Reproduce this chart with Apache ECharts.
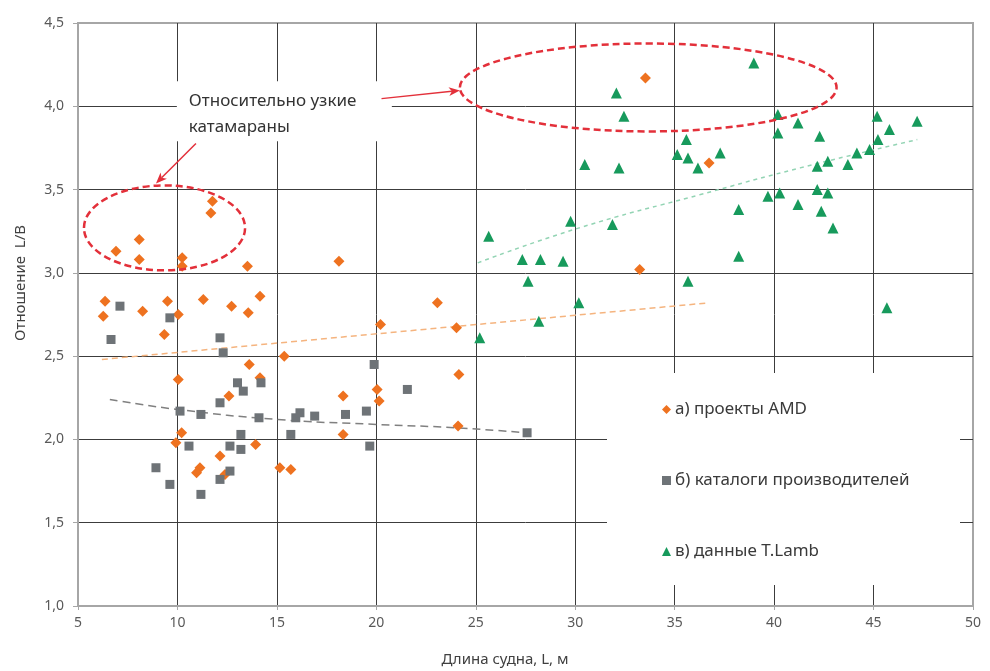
<!DOCTYPE html>
<html>
<head>
<meta charset="utf-8">
<script src="https://cdn.jsdelivr.net/npm/echarts@6/dist/echarts.min.js"></script>
<style>
html,body{margin:0;padding:0;background:#fff;}
#chart{width:990px;height:671px;}
</style>
</head>
<body>
<div id="chart"></div>
<script>
// ---- data ----
const seriesNames = ['а) проекты AMD', 'б) каталоги производителей', 'в) данные T.Lamb'];
const xTicks = [5, 10, 15, 20, 25, 30, 35, 40, 45, 50];
const yTicks = [1.0, 1.5, 2.0, 2.5, 3.0, 3.5, 4.0, 4.5];

const amdData = [
  [6.36,2.83],[6.27,2.74],[6.91,3.13],[8.08,3.20],[8.08,3.08],[8.25,2.77],[9.5,2.83],[9.34,2.63],
  [10.04,2.75],[10.24,3.09],[10.24,3.04],[11.3,2.84],[11.76,3.43],[11.68,3.36],[12.72,2.80],[13.52,3.04],
  [13.56,2.76],[14.15,2.86],[15.37,2.50],[13.61,2.45],[10.04,2.36],[14.15,2.37],[12.59,2.26],[10.21,2.04],
  [9.92,1.98],[13.93,1.97],[12.14,1.90],[11.13,1.83],[10.96,1.80],[12.39,1.79],[15.15,1.83],[15.7,1.82],
  [18.12,3.07],[23.07,2.82],[20.21,2.69],[24.03,2.67],[24.15,2.39],[18.33,2.26],[20.04,2.30],[20.14,2.23],
  [18.33,2.03],[24.11,2.08],[33.53,4.17],[36.73,3.66],[33.24,3.02]
];
const catalogData = [
  [7.11,2.80],[9.62,2.73],[6.66,2.60],[12.14,2.61],[12.3,2.52],[13.02,2.34],[13.31,2.29],[14.2,2.34],
  [12.14,2.22],[10.13,2.17],[11.18,2.15],[14.1,2.13],[15.95,2.13],[16.16,2.16],[13.19,2.03],[15.7,2.03],
  [10.58,1.96],[12.64,1.96],[13.19,1.94],[8.92,1.83],[12.64,1.81],[12.14,1.76],[9.62,1.73],[11.18,1.67],
  [19.89,2.45],[21.56,2.30],[16.9,2.14],[18.45,2.15],[19.5,2.17],[19.67,1.96],[27.58,2.04]
];
const lambData = [
  [25.2,2.61],[25.65,3.22],[27.34,3.08],[27.63,2.95],[28.17,2.71],[28.25,3.08],[29.39,3.07],[29.77,3.31],
  [30.18,2.82],[30.48,3.65],[31.87,3.29],[32.07,4.08],[32.2,3.63],[32.45,3.94],[35.13,3.71],[35.59,3.80],
  [35.67,3.69],[35.67,2.95],[36.17,3.63],[37.29,3.72],[38.22,3.38],[38.22,3.10],[38.98,4.26],[39.69,3.46],
  [40.19,3.95],[40.19,3.84],[40.28,3.48],[41.2,3.90],[41.2,3.41],[42.17,3.64],[42.17,3.50],[42.29,3.82],
  [42.37,3.37],[42.7,3.67],[42.7,3.48],[42.96,3.27],[43.71,3.65],[44.16,3.72],[44.8,3.74],[45.18,3.94],
  [45.22,3.80],[45.67,2.79],[45.8,3.86],[47.19,3.91]
];
// trend lines
const amdTrend = [[6.2,2.48],[36.7,2.82]];
const catalogTrend = [[6.6,2.24],[10,2.18],[15,2.12],[20,2.09],[24,2.07],[27.5,2.04]];
const lambTrend = [[25.1,3.06],[30.2,3.27],[36.3,3.47],[41.3,3.63],[47.2,3.80]];

// annotations (data coordinates)
const ellipses = [
  {cx: 9.35, cy: 3.27, rx: 4.05, ry: 0.255},
  {cx: 33.67, cy: 4.113, rx: 9.47, ry: 0.264}
];
const arrows = [
  {from: [10.93, 3.777], to: [8.92, 3.537]},
  {from: [20.26, 4.046], to: [24.2, 4.095]}
];
const noteLines = ['Относительно узкие', 'катамараны'];
const noteBox = {x1: 9.97, y1: 4.15, x2: 20.78, y2: 3.79};
const xName = 'Длина судна, L, м';
const yName = 'Отношение  L/B';

const FONT = "'Noto Sans', 'Open Sans', sans-serif";
const ORANGE = '#ee7220', GRAY = '#6e7377', GREEN = '#179a5c', RED = '#e3303a';

const chart = echarts.init(document.getElementById('chart'));
const option = {
  animation: false,
  backgroundColor: '#fff',
  textStyle: {fontFamily: FONT},
  grid: {left: 78, right: 17, top: 23, bottom: 65, show: true, borderColor: '#a6a6a6', borderWidth: 2, backgroundColor: 'transparent'},
  xAxis: {
    type: 'value', min: 5, max: 50, interval: 5,
    axisLine: {show: true, onZero: false, lineStyle: {color: '#a6a6a6', width: 2}},
    axisTick: {show: true, length: 4, lineStyle: {color: '#a6a6a6'}},
    axisLabel: {color: '#595959', fontSize: 14, margin: 10, fontFamily: FONT},
    splitLine: {show: true, showMinLine: false, showMaxLine: false, lineStyle: {color: '#3c3c3c', width: 1}}
  },
  yAxis: {
    type: 'value', min: 1, max: 4.5, interval: 0.5,
    axisLine: {show: true, onZero: false, lineStyle: {color: '#a6a6a6', width: 2}},
    axisTick: {show: true, length: 5, lineStyle: {color: '#a6a6a6'}},
    axisLabel: {color: '#595959', fontSize: 14, margin: 14, fontFamily: FONT,
      formatter: v => v.toFixed(1).replace('.', ',')},
    splitLine: {show: true, showMinLine: false, showMaxLine: false, lineStyle: {color: '#3c3c3c', width: 1}}
  },
  legend: {
    show: true, orient: 'vertical', left: 657, top: 396,
    itemGap: 54, itemWidth: 9, itemHeight: 9,
    textStyle: {fontSize: 17, color: '#3a3a3a', fontFamily: FONT, lineHeight: 17, padding: [0, 0, 0, -1]},
    data: [
      {name: seriesNames[0], icon: 'diamond', itemStyle: {color: ORANGE}},
      {name: seriesNames[1], icon: 'rect', itemStyle: {color: GRAY}},
      {name: seriesNames[2], icon: 'triangle', itemStyle: {color: GREEN}}
    ],
    z: 10
  },
  series: [
    {type: 'line', data: amdTrend, symbol: 'none', silent: true, z: 2,
      lineStyle: {color: '#f5b47f', width: 1.5, type: [6, 4]}},
    {type: 'line', data: catalogTrend, symbol: 'none', smooth: true, silent: true, z: 2,
      lineStyle: {color: '#808080', width: 1.5, type: [8, 5]}},
    {type: 'line', data: lambTrend, symbol: 'none', smooth: true, silent: true, z: 2,
      lineStyle: {color: '#93d4b4', width: 1.5, type: [4, 4]}},
    {name: seriesNames[0], type: 'scatter', data: amdData, symbol: 'diamond', symbolSize: 11, z: 3,
      itemStyle: {color: ORANGE, opacity: 1}},
    {name: seriesNames[1], type: 'scatter', data: catalogData, symbol: 'rect', symbolSize: 9, z: 3,
      itemStyle: {color: GRAY, opacity: 1}},
    {name: seriesNames[2], type: 'scatter', data: lambData, symbol: 'triangle', symbolSize: 11, z: 3,
      itemStyle: {color: GREEN, opacity: 1}}
  ]
};
chart.setOption(option);

function px(p) { return chart.convertToPixel({gridIndex: 0}, p); }
const g = [];
// legend white box
g.push({type: 'rect', z: 1, shape: {x: 607, y: 373, width: 353, height: 212}, style: {fill: '#fff'}});
// note white box
const nb1 = px([noteBox.x1, noteBox.y1]), nb2 = px([noteBox.x2, noteBox.y2]);
g.push({type: 'rect', z: 1, shape: {x: nb1[0], y: nb1[1], width: nb2[0] - nb1[0], height: nb2[1] - nb1[1]}, style: {fill: '#fff'}});
g.push({type: 'text', z: 5, x: nb1[0] + 12, y: nb1[1] + 33,
  style: {text: noteLines.join('\n'), fontSize: 17, lineHeight: 26, fill: '#333', fontFamily: FONT, verticalAlign: 'middle', align: 'left'}});
// ellipses
ellipses.forEach(e => {
  const c = px([e.cx, e.cy]);
  const r = px([e.cx + e.rx, e.cy + e.ry]);
  g.push({type: 'ellipse', z: 6, shape: {cx: c[0], cy: c[1], rx: r[0] - c[0], ry: c[1] - r[1]},
    style: {fill: 'none', stroke: RED, lineWidth: 2.5, lineDash: [7, 4]}});
});
// arrows
arrows.forEach(a => {
  const p1 = px(a.from), p2 = px(a.to);
  const dx = p2[0] - p1[0], dy = p2[1] - p1[1];
  const L = Math.sqrt(dx * dx + dy * dy), ux = dx / L, uy = dy / L;
  const hl = 11, hw = 4.5;
  const bx = p2[0] - ux * hl, by = p2[1] - uy * hl;
  g.push({type: 'line', z: 6, shape: {x1: p1[0], y1: p1[1], x2: bx + ux * 3, y2: by + uy * 3}, style: {stroke: RED, lineWidth: 1.5}});
  g.push({type: 'polygon', z: 6, shape: {points: [[p2[0], p2[1]], [bx - uy * hw, by + ux * hw], [bx + ux * 3, by + uy * 3], [bx + uy * hw, by - ux * hw]]},
    style: {fill: RED}});
});
// axis names
g.push({type: 'text', z: 5, x: 505, y: 660, style: {text: xName, fontSize: 15, fill: '#404040', fontFamily: FONT, align: 'center', verticalAlign: 'middle'}});
g.push({type: 'text', z: 5, x: 21, y: 283, rotation: Math.PI / 2, style: {text: yName, fontSize: 15, fill: '#404040', fontFamily: FONT, align: 'center', verticalAlign: 'middle'}});
chart.setOption({graphic: {elements: g}});
</script>
</body>
</html>
